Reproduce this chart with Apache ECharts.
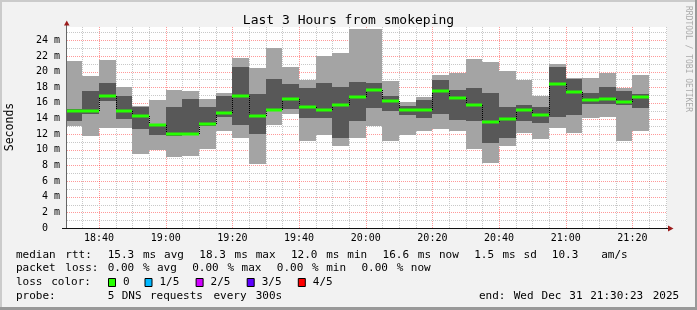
<!DOCTYPE html>
<html>
<head>
<meta charset="utf-8">
<script src="https://cdn.jsdelivr.net/npm/echarts@6/dist/echarts.min.js"></script>
<style>
html,body{margin:0;padding:0;background:#f2f2f2;}
#c{width:697px;height:310px;}
</style>
</head>
<body>
<div id="c"></div>
<script>
// ---------------- DATA ----------------
const titleText = 'Last 3 Hours from smokeping';
const yAxisName = 'Seconds';
const watermark = 'RRDTOOL / TOBI OETIKER';
const rangeStart = '18:30:23';
const rangeEnd = '21:30:23';
const stepMinutes = 5;
// start time of each 5-minute slot
const times = ['18:30','18:35','18:40','18:45','18:50','18:55','19:00','19:05','19:10','19:15',
  '19:20','19:25','19:30','19:35','19:40','19:45','19:50','19:55','20:00','20:05',
  '20:10','20:15','20:20','20:25','20:30','20:35','20:40','20:45','20:50','20:55',
  '21:00','21:05','21:10','21:15','21:20'];
// sorted ping values (ms): lowest, 2nd, median, 4th, highest
const pingMin = [13.04,11.77,12.79,12.79,9.51,9.94,9.13,9.24,10.05,12.42,
  11.53,8.22,13.2,14.59,11.13,11.94,10.53,11.51,13.04,11.17,
  11.94,12.45,12.7,12.45,10.15,8.37,10.53,12.11,11.43,12.83,
  12.19,14.06,14.19,11.13,12.45];
const pingLow = [13.72,14.57,16.25,13.97,12.7,11.83,11.7,11.9,13.05,14.19,
  13.2,12.08,14.95,15.16,14.06,14.06,11.55,13.72,15.35,15.0,
  14.48,14.06,14.61,13.85,13.72,10.92,11.55,13.72,13.46,14.19,
  14.48,15.89,15.89,15.67,15.33];
const pingMedian = [15.0,15.0,16.9,14.95,14.27,13.21,12.02,12.02,13.25,14.65,
  16.9,14.31,15.08,16.44,15.42,15.04,15.67,16.69,17.63,16.23,
  15.04,15.04,17.54,16.61,15.67,13.59,13.89,15.04,14.48,18.35,
  17.4,16.31,16.44,16.06,16.69];
const pingHigh = [15.2,17.5,18.52,16.86,15.45,13.35,15.46,16.48,15.46,16.86,
  20.56,17.12,19.03,18.39,17.88,18.52,18.01,18.67,18.5,16.86,
  15.55,16.31,18.94,17.63,17.88,17.25,15.46,15.67,15.46,20.56,
  19.1,17.25,18.01,17.5,17.16];
const pingMax = [21.32,19.41,21.45,18.05,15.55,16.35,17.63,17.5,16.48,17.25,
  21.75,20.43,22.98,20.56,18.86,21.96,22.43,25.49,25.4,18.77,
  16.1,16.74,19.58,19.84,21.62,21.2,20.05,18.94,16.86,20.94,
  19.16,19.16,19.84,17.88,19.58];
const yMaxValue = 25.7;
const yLabelValues = [0,2,4,6,8,10,12,14,16,18,20,22,24];
const xLabelTimes = ['18:40','19:00','19:20','19:40','20:00','20:20','20:40','21:00','21:20'];
const statLine1 = 'median rtt:  15.3 ms avg  18.3 ms max  12.0 ms min  16.6 ms now  1.5 ms sd  10.3   am/s';
const statLine2 = 'packet loss: 0.00 % avg  0.00 % max  0.00 % min  0.00 % now';
const lossLabel = 'loss color:';
const lossNames = ['0','1/5','2/5','3/5','4/5'];
const lossColors = ['#26ff00','#00b8ff','#d000ff','#5e00ff','#ff0000'];
const probeLine = 'probe:       5 DNS requests every 300s';
const endLine = 'end: Wed Dec 31 21:30:23 2025';

// ---------------- HELPERS ----------------
function toMin(s){ const p=s.split(':').map(Number); return p[0]*60+p[1]+(p[2]||0)/60; }
function fmtTime(v){ const h=Math.floor(v/60), m=Math.round(v-h*60); return String(h).padStart(2,'0')+':'+String(m).padStart(2,'0'); }
const FONT = 'DejaVu Sans Mono';
const xMin = toMin(rangeStart), xMax = toMin(rangeEnd);
const MEDIAN_COLOR = lossColors[0];

const barData = times.map((t,i)=>{
  const s = toMin(t);
  return [Math.max(s,xMin), s+stepMinutes, pingMin[i], pingLow[i], pingMedian[i], pingHigh[i], pingMax[i], i>0?pingMedian[i-1]:pingMedian[i], i];
});
const vGrid = [];
for (let t=Math.ceil(xMin/stepMinutes)*stepMinutes; t<=xMax; t+=stepMinutes) vGrid.push([t,0]);
const hGrid = [];
for (let v=1; v<=Math.floor(yMaxValue); v++) hGrid.push([xMin,v]);

// ---------------- TEXT GRAPHICS ----------------
const graphics = [];
// frame
graphics.push({type:'rect', shape:{x:0,y:0,width:697,height:2}, style:{fill:'#cbcbcb'}, silent:true});
graphics.push({type:'rect', shape:{x:0,y:0,width:2,height:310}, style:{fill:'#cbcbcb'}, silent:true});
graphics.push({type:'rect', shape:{x:695,y:0,width:2,height:310}, style:{fill:'#999999'}, silent:true});
graphics.push({type:'rect', shape:{x:0,y:307,width:697,height:3}, style:{fill:'#999999'}, silent:true});

function addTokens(line, x0, colW, y){
  const re=/\S+/g; let m;
  while((m=re.exec(line))){
    graphics.push({type:'text', x:x0+m.index*colW, y:y, silent:true,
      style:{text:m[0], fontFamily:FONT, fontSize:11, fill:'#000', align:'left', verticalAlign:'middle'}});
  }
}
const COL = 7.05, TX = 16;
addTokens(statLine1, TX, COL, 255);
addTokens(statLine2, TX, COL, 268.5);
addTokens(lossLabel, TX, COL, 282);
lossNames.forEach((n,i)=>{
  const offs=[0,5,12,19,26][i];
  const sx = 108 + offs*7.3;
  graphics.push({type:'rect', shape:{x:sx+0.5,y:278.5,width:7,height:8}, style:{fill:lossColors[i], stroke:'#000', lineWidth:1}, silent:true});
  graphics.push({type:'text', x:sx+15, y:282, silent:true, style:{text:n, fontFamily:FONT, fontSize:11, fill:'#000', align:'left', verticalAlign:'middle'}});
});
addTokens(probeLine, TX, COL, 296);
addTokens(endLine, 479, 6.95, 296);
// y-axis title
graphics.push({type:'text', x:10, y:127, rotation:Math.PI/2, silent:true,
  style:{text:yAxisName, fontFamily:FONT, fontSize:11.5, fill:'#000', align:'center', verticalAlign:'middle'}});
// watermark
graphics.push({type:'text', x:688, y:59, rotation:-Math.PI/2, silent:true,
  style:{text:watermark, fontFamily:FONT, fontSize:8, fill:'#ababab', align:'center', verticalAlign:'middle'}});
// axis lines + arrows
graphics.push({type:'line', z:50, shape:{x1:66.5,y1:228.5,x2:66.5,y2:24}, style:{stroke:'#666', lineWidth:1}, silent:true});
graphics.push({type:'line', z:50, shape:{x1:62,y1:228.5,x2:668,y2:228.5}, style:{stroke:'#111', lineWidth:1}, silent:true});
graphics.push({type:'polygon', z:51, shape:{points:[[64,25.5],[69.5,25.5],[66.75,20.5]]}, style:{fill:'#9c1c1c'}, silent:true});
graphics.push({type:'polygon', z:51, shape:{points:[[668,225.5],[668,231.5],[673.5,228.5]]}, style:{fill:'#9c1c1c'}, silent:true});

// ---------------- CHART ----------------
const chart = echarts.init(document.getElementById('c'), null, {renderer:'canvas', width:697, height:310});
const option = {
  backgroundColor:'#f2f2f2',
  animation:false,
  title:{text:titleText, left:'center', top:9, textStyle:{fontFamily:FONT, fontSize:13, fontWeight:'normal', color:'#000'}},
  grid:{left:67, right:30, top:27, bottom:82, show:true, backgroundColor:'#ffffff', borderWidth:0, containLabel:false, outerBoundsMode:'none'},
  xAxis:{type:'value', min:xMin, max:xMax,
    axisLine:{show:false}, axisTick:{show:false}, splitLine:{show:false},
    axisLabel:{customValues:xLabelTimes.map(toMin), formatter:v=>fmtTime(v), fontFamily:FONT, fontSize:10, color:'#000', margin:5}},
  yAxis:{type:'value', min:0, max:yMaxValue, interval:2,
    axisLine:{show:false}, axisTick:{show:false}, splitLine:{show:false},
    axisLabel:{customValues:yLabelValues, formatter:v=> v===0 ? '0  ' : v+' m', fontFamily:FONT, fontSize:10, color:'#000', margin:7}},
  graphic:{elements:graphics},
  series:[
    {type:'custom', z:1, silent:true, data:vGrid, encode:{x:0,y:1},
      renderItem:(p,api)=>{
        const t=api.value(0);
        const a=api.coord([t,0]), b=api.coord([t,yMaxValue]);
        const x=Math.round(a[0])+0.5;
        const major = Math.round(t)%20===0;
        return {type:'line', shape:{x1:x,y1:a[1],x2:x,y2:b[1]}, style:{stroke:major?'rgba(255,0,0,0.4)':'#c8c8c8', lineWidth:1, lineDash:[1,1]}};
      }},
    {type:'custom', z:1, silent:true, data:hGrid, encode:{x:0,y:1},
      renderItem:(p,api)=>{
        const v=api.value(1);
        const a=api.coord([xMin,v]), b=api.coord([xMax,v]);
        const y=Math.round(a[1])+0.5;
        const major = v%2===0;
        return {type:'line', shape:{x1:a[0],y1:y,x2:b[0],y2:y}, style:{stroke:major?'rgba(255,0,0,0.4)':'#c8c8c8', lineWidth:1, lineDash:[1,1]}};
      }},
    {type:'custom', z:2, silent:true, data:barData, encode:{x:[0,1], y:[2,6]},
      renderItem:(p,api)=>{
        const x0=api.value(0), x1=api.value(1);
        const mn=api.value(2), lo=api.value(3), md=api.value(4), hi=api.value(5), mx=api.value(6), pv=api.value(7), idx=api.value(8);
        const L=Math.round(api.coord([x0,0])[0]), R=Math.round(api.coord([x1,0])[0]);
        const yMx=Math.round(api.coord([x0,mx])[1]), yMn=Math.round(api.coord([x0,mn])[1]);
        const yHi=Math.round(api.coord([x0,hi])[1]), yLo=Math.round(api.coord([x0,lo])[1]);
        const yMd=Math.round(api.coord([x0,md])[1]), yPv=Math.round(api.coord([x0,pv])[1]);
        const ch=[
          {type:'rect', shape:{x:L,y:yMx,width:R-L,height:yMn-yMx}, style:{fill:'#a4a4a4'}},
          {type:'rect', shape:{x:L,y:yHi,width:R-L,height:yLo-yHi}, style:{fill:'#585858'}}
        ];
        if (idx>0) ch.push({type:'line', shape:{x1:L+0.5,y1:yPv,x2:L+0.5,y2:yMd}, style:{stroke:'#000', lineWidth:1, lineDash:[1,1]}});
        ch.push({type:'rect', shape:{x:L,y:yMd-1.5,width:R-L,height:3}, style:{fill:MEDIAN_COLOR}});
        return {type:'group', children:ch};
      }}
  ]
};
chart.setOption(option);
</script>
</body>
</html>
